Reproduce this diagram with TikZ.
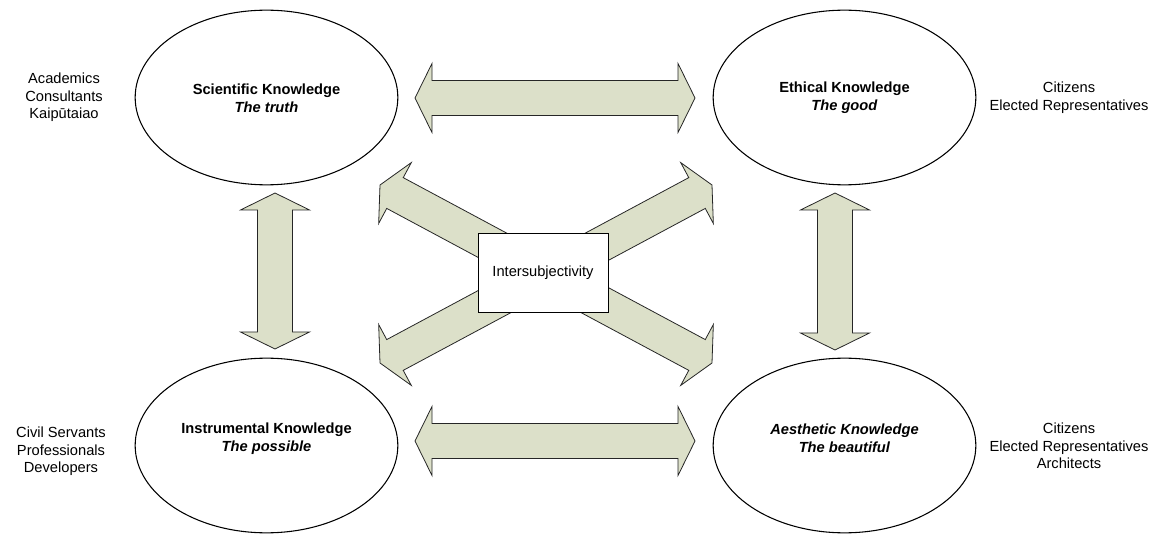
\documentclass[tikz,border=0pt]{standalone}
\usepackage{fontspec}
\setmainfont{Liberation Sans}
\usetikzlibrary{calc,shapes.geometric}

\definecolor{arrowfill}{RGB}{220,224,201}

% Double-headed block arrow between two named tip coordinates
\newcommand\hugearrow[2]{%
  \coordinate (ha) at ($(#1)!12.75pt!(#2)$);
  \coordinate (hb) at ($(#2)!12.75pt!(#1)$);
  \draw[blockarrow] (#1)
    -- ($(ha)!25.9pt!-90:(#2)$) -- ($(ha)!13.1pt!-90:(#2)$)
    -- ($(hb)!13.1pt!90:(#1)$) -- ($(hb)!25.9pt!90:(#1)$)
    -- (#2)
    -- ($(hb)!25.9pt!-90:(#1)$) -- ($(hb)!13.1pt!-90:(#1)$)
    -- ($(ha)!13.1pt!90:(#2)$) -- ($(ha)!25.9pt!90:(#2)$)
    -- cycle;}

\tikzset{
  blockarrow/.style={fill=arrowfill, draw=black!85, line width=0.6pt, line join=miter},
  knowledge/.style={ellipse, draw=black, line width=0.8pt, minimum width=197pt, minimum height=131pt, inner sep=0pt},
  title/.style={align=center, font=\fontsize{11}{13.2}\selectfont\bfseries},
  people/.style={align=center, font=\fontsize{11}{13.2}\selectfont},
  hub/.style={draw=black, line width=0.6pt, fill=white, minimum width=97.5pt, minimum height=59.25pt, inner sep=0pt, font=\fontsize{11}{13.2}\selectfont}
}

\begin{document}
\begin{tikzpicture}[x=0.75pt, y=-0.75pt]
\useasboundingbox (0,0) rectangle (1156,534);

% the four kinds of knowledge
\node[knowledge] (sci) at (266.5,97.5) {};
\node[knowledge] (eth) at (844.5,97.5) {};
\node[knowledge] (ins) at (266.5,445.5) {};
\node[knowledge] (aes) at (844.5,445.5) {};

% arrow tips
\coordinate (tA) at (415,98);   \coordinate (tB) at (695,98);
\coordinate (bA) at (415,441);  \coordinate (bB) at (695,441);
\coordinate (lA) at (275,193);  \coordinate (lB) at (275,349);
\coordinate (rA) at (835,193);  \coordinate (rB) at (835,350);
\coordinate (dA) at (380,185);  \coordinate (dB) at (712,363);
\coordinate (eA) at (380,363);  \coordinate (eB) at (712,185);

\hugearrow{tA}{tB}
\hugearrow{bA}{bB}
\hugearrow{lA}{lB}
\hugearrow{rA}{rB}
\hugearrow{dA}{dB}
\hugearrow{eA}{eB}

\node[hub] (inter) at (543,272.5) {Intersubjectivity};

% titles inside the ellipses
\node[title] (sciT) at ($(sci.center)+(0,0.5)$) {Scientific Knowledge\\\textit{The truth}};
\node[title] (ethT) at ($(eth.center)+(0,0.5)$) {Ethical Knowledge\\\textit{The good}};
\node[title] (insT) at ($(ins.center)+(0,-7)$) {Instrumental Knowledge\\\textit{The possible}};
\node[title] (aesT) at ($(aes.center)+(0,-7)$) {\textit{Aesthetic Knowledge}\\\textit{The beautiful}};

% who holds each kind of knowledge
\node[people] (sciP) at (64,97.5) {Academics\\Consultants\\Kaipūtaiao};
\node[people] (ethP) at (1069,97.5) {Citizens\\Elected Representatives};
\node[people] (insP) at (61,451.5) {Civil Servants\\Professionals\\Developers};
\node[people] (aesP) at (1069,446) {Citizens\\Elected Representatives\\Architects};
\end{tikzpicture}
\end{document}
